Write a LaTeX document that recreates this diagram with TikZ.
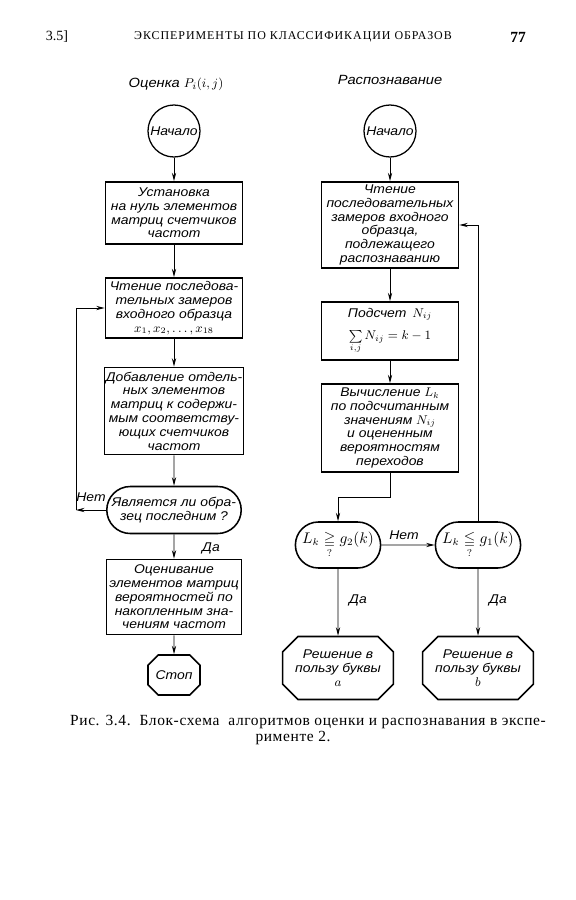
\documentclass[tikz,border=0pt]{standalone}
\usepackage{amssymb,amsmath}
\usepackage{fontspec}
\setmainfont{Liberation Serif}
\newfontfamily\flowfont{Liberation Sans}[FakeStretch=1.1]
\usepackage{tikz}
\usetikzlibrary{shapes.misc,calc,arrows.meta}

\begin{document}
\begin{tikzpicture}[x=0.025cm, y=-0.025cm, >={Stealth[length=6pt,width=3pt]},
		font=\flowfont\itshape\fontsize{9}{9.8}\selectfont,
		block/.style={draw, line width=1.1pt, align=center, minimum width=3.425cm, inner sep=1pt},
		termc/.style={draw, circle, line width=0.9pt, minimum size=1.3cm, inner sep=0pt},
		query/.style={draw, rounded rectangle, line width=1.1pt, align=center, inner sep=1pt},
		halt/.style={draw, chamfered rectangle, chamfered rectangle xsep=0.28cm, line width=1.1pt, align=center, inner sep=1pt},
		link/.style={->, line width=0.6pt},
		book/.style={font=\rmfamily\upshape\fontsize{10}{12}\selectfont}]
		\useasboundingbox (0,0) rectangle (576,900);
		% running head
		\node[book] (sec) at (57,37) {3.5]};
		\node[book, font=\rmfamily\upshape\fontsize{8.5}{10}\selectfont\addfontfeature{LetterSpace=8}] (head) at (293,37) {ЭКСПЕРИМЕНТЫ ПО КЛАССИФИКАЦИИ ОБРАЗОВ};
		\node[book, font=\rmfamily\bfseries\fontsize{11}{12}\selectfont] (pg) at (518,37) {77};
		% estimation
		\node[font=\flowfont\itshape\fontsize{9.5}{11}\selectfont] (titleL) at (176,84) {Оценка $P_i(i,j)$};
		\node[termc] (startL) at (174,131) {Начало};
		\node[block, minimum height=1.55cm] (zero) at (174,213) {Установка\\на нуль элементов\\матриц счетчиков\\частот};
		\node[block, minimum height=1.5cm] (read) at (174,308) {Чтение последова-\\тельных замеров\\входного образца\\$x_1, x_2, \ldots, x_{18}$};
		\node[block, minimum height=2.175cm] (add) at (174,411) {Добавление отдель-\\ных элементов\\матриц к содержи-\\мым соответству-\\ющих счетчиков\\частот};
		\node[query, minimum width=3.1cm, minimum height=1.175cm] (last) at (174,510) {Является ли обра-\\зец последним ?};
		\node[block, minimum width=3.375cm, minimum height=1.875cm] (estim) at (174,597) {Оценивание\\элементов матриц\\вероятностей по\\накопленным зна-\\чениям частот};
		\node[halt, minimum width=1.3cm, minimum height=1cm] (stop) at (174,675) {Стоп};
		\coordinate (back) at (76,510);
		\draw[link] (startL) -- (zero);
		\draw[link] (zero) -- (read);
		\draw[link] (read) -- (add);
		\draw[link] (add) -- (last);
		\draw[link] (last) -- (estim);
		\draw[link] (estim) -- (stop);
		\draw[link] (last.west) -- (back);
		\draw[link] (back) |- (read.west);
		\node at (91,497) {Нет};
		\node at (211,548) {Да};
		% recognition
		\node[font=\flowfont\itshape\fontsize{9.5}{11}\selectfont] (titleR) at (390,80) {Распознавание};
		\node[termc] (startR) at (390,131) {Начало};
		\node[block, minimum height=2.15cm] (readR) at (390,225) {Чтение\\последовательных\\замеров входного\\образца,\\подлежащего\\распознаванию};
		\node[block, minimum height=1.45cm] (count) at (390,331) {Подсчет\ \,$N_{ij}$\\[6pt]$\sum\limits_{i,j} N_{ij} = k-1$};
		\node[block, minimum height=2.2cm] (calc) at (390,428) {Вычисление $L_k$\\по подсчитанным\\значениям $N_{ij}$\\и оцененным\\вероятностям\\переходов};
		\node[query, minimum width=2.2cm, minimum height=1.15cm, font=\flowfont\itshape\fontsize{10.5}{12}\selectfont] (testA) at (338,545) {$L_k \underset{?}{\geqq} g_2(k)$};
		\node[query, minimum width=2.2cm, minimum height=1.15cm, font=\flowfont\itshape\fontsize{10.5}{12}\selectfont] (testB) at (478,545) {$L_k \underset{?}{\leqq} g_1(k)$};
		\node[halt, minimum width=2.075cm, minimum height=1.575cm] (decA) at (338,668) {Решение в\\пользу буквы\\$a$};
		\node[halt, minimum width=2.075cm, minimum height=1.575cm] (decB) at (478,668) {Решение в\\пользу буквы\\$b$};
		\coordinate (jn) at (390,497);
		\draw[link] (startR) -- (readR);
		\draw[link] (readR) -- (count);
		\draw[link] (count) -- (calc);
		\draw[link] (calc) -- (jn) -| (testA);
		\draw[link] (testA) -- (testB);
		\draw[link] (testA) -- (decA);
		\draw[link] (testB) -- (decB);
		\draw[link] (testB) |- (readR);
		\node at (404,535) {Нет};
		\node at (358,600) {Да};
		\node at (498,600) {Да};
		% caption
		\node[book, font=\rmfamily\upshape\fontsize{11}{12}\selectfont\addfontfeature{LetterSpace=4}] (capA) at (308,722) {Рис. 3.4.\ \ Блок-схема\ \ алгоритмов оценки и распознавания в экспе-};
		\node[book, font=\rmfamily\upshape\fontsize{11}{12}\selectfont\addfontfeature{LetterSpace=4}] (capB) at (293,738) {рименте 2.};
	\end{tikzpicture}
\end{document}
